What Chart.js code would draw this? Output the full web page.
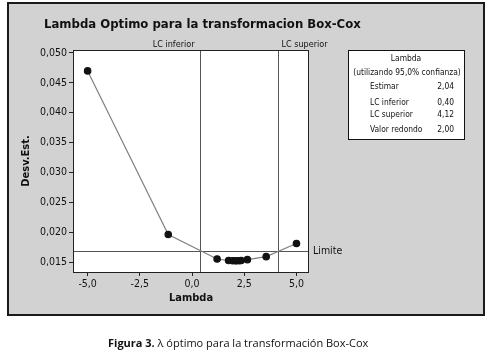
<!DOCTYPE html>
<html><head><meta charset="utf-8">
<script src="https://cdn.jsdelivr.net/npm/chart.js@4/dist/chart.umd.min.js"></script>
<style>html,body{margin:0;padding:0;background:#fff;}#wrap{width:493px;height:355px;position:relative;}</style>
</head><body><div id="wrap"><canvas id="c" width="493" height="355"></canvas></div>
<script>
const lambdas = [-5.0, -1.14, 1.2, 1.75, 1.95, 2.1, 2.25, 2.35, 2.65, 3.55, 5.0];
const stdevs  = [0.0470, 0.0196, 0.0155, 0.01525, 0.01522, 0.0152, 0.01522, 0.01525, 0.0154, 0.0159, 0.0181];
const xTicks = [-5.0, -2.5, 0.0, 2.5, 5.0];
const yTicks = [0.015, 0.020, 0.025, 0.030, 0.035, 0.040, 0.045, 0.050];
const lcInferior = 0.40;
const lcSuperior = 4.12;
const limite = 0.01684;
const legendRows = [["Estimar", "2,04"], ["LC inferior", "0,40"], ["LC superior", "4,12"], ["Valor redondo", "2,00"]];
const titleText = "Lambda Optimo para la transformacion Box-Cox";

const F = "Tahoma, 'DejaVu Sans Condensed', 'DejaVu Sans', sans-serif";
const fmt = (v, d) => v.toFixed(d).replace('.', ',');

const deco = {
  id: 'deco',
  beforeDraw(chart) {
    const ctx = chart.ctx, a = chart.chartArea;
    ctx.save();
    ctx.fillStyle = '#fff'; ctx.fillRect(0, 0, chart.width, chart.height);
    ctx.fillStyle = '#d2d2d2'; ctx.fillRect(8, 3, 476, 312);
    ctx.strokeStyle = '#1a1a1a'; ctx.lineWidth = 2; ctx.strokeRect(8, 3, 476, 312);
    ctx.fillStyle = '#fff'; ctx.fillRect(a.left, a.top, a.right - a.left, a.bottom - a.top);
    ctx.restore();
  },
  beforeDatasetsDraw(chart) {
    const ctx = chart.ctx, a = chart.chartArea, xs = chart.scales.x, ys = chart.scales.y;
    ctx.save();
    ctx.strokeStyle = '#555'; ctx.lineWidth = 1;
    const xi = Math.round(xs.getPixelForValue(lcInferior)) + 0.5;
    const xsu = Math.round(xs.getPixelForValue(lcSuperior)) + 0.5;
    const yl = Math.round(ys.getPixelForValue(limite)) + 0.5;
    ctx.beginPath();
    ctx.moveTo(xi, a.top); ctx.lineTo(xi, a.bottom);
    ctx.moveTo(xsu, a.top); ctx.lineTo(xsu, a.bottom);
    ctx.moveTo(a.left, yl); ctx.lineTo(a.right, yl);
    ctx.stroke();
    ctx.fillStyle = '#111';
    ctx.font = "9px " + F;
    ctx.textBaseline = 'middle';
    ctx.textAlign = 'right'; ctx.fillText('LC inferior', xi - 6, a.top - 5);
    ctx.textAlign = 'left'; ctx.fillText('LC superior', xsu + 3, a.top - 5);
    ctx.font = "10.5px " + F;
    ctx.fillText('Limite', a.right + 4, yl);
    ctx.restore();
  },
  afterDraw(chart) {
    const ctx = chart.ctx, a = chart.chartArea;
    ctx.save();
    ctx.strokeStyle = '#222'; ctx.lineWidth = 1;
    ctx.strokeRect(a.left + 0.5, a.top + 0.5, a.right - a.left - 1, a.bottom - a.top);
    // title
    ctx.fillStyle = '#111';
    ctx.font = "bold 13px " + F;
    ctx.textAlign = 'left'; ctx.textBaseline = 'middle';
    ctx.fillText(titleText, 44, 25);
    // legend box
    const bx = 348, by = 50, bw = 116, bh = 89;
    ctx.fillStyle = '#fff'; ctx.fillRect(bx, by, bw, bh);
    ctx.strokeStyle = '#111'; ctx.strokeRect(bx + 0.5, by + 0.5, bw, bh);
    ctx.fillStyle = '#111';
    ctx.font = "8.4px " + F;
    ctx.textAlign = 'center';
    ctx.fillText('Lambda', bx + bw / 2, 59);
    ctx.fillText('(utilizando 95,0% confianza)', bx + bw / 2 + 1, 73);
    const ys = [87, 103, 115, 130];
    legendRows.forEach((r, i) => {
      ctx.textAlign = 'left'; ctx.fillText(r[0], 370, ys[i]);
      ctx.textAlign = 'right'; ctx.fillText(r[1], 454, ys[i]);
    });
    // caption
    ctx.textAlign = 'left';
    ctx.font = "bold 11px 'Open Sans', sans-serif";
    const cap1 = 'Figura 3.';
    ctx.fillText(cap1, 108, 344);
    const w = ctx.measureText(cap1).width;
    ctx.font = "11px 'Open Sans', sans-serif";
    ctx.fillText(' \u03bb óptimo para la transformación Box-Cox', 108 + w, 344);
    ctx.restore();
  }
};

new Chart(document.getElementById('c'), {
  type: 'scatter',
  data: {
    datasets: [{
      data: lambdas.map((x, i) => ({x: x, y: stdevs[i]})),
      showLine: true,
      borderColor: '#808080',
      borderWidth: 1.2,
      pointBackgroundColor: '#111',
      pointBorderColor: '#111',
      pointRadius: 3.2,
      pointHoverRadius: 3.2
    }]
  },
  options: {
    responsive: false,
    animation: false,
    events: [],
    layout: { padding: { left: 20, top: 50, right: 184, bottom: 48 } },
    plugins: { legend: { display: false }, tooltip: { enabled: false }, title: { display: false } },
    scales: {
      x: {
        type: 'linear', min: -5.7, max: 5.6,
        afterBuildTicks: s => { s.ticks = xTicks.map(v => ({value: v})); },
        afterFit: s => { s.height = 35; },
        grid: { drawOnChartArea: false, drawTicks: true, tickLength: 4, tickColor: '#222' },
        border: { display: false },
        ticks: { color: '#111', font: { family: F, size: 10.5 }, padding: 2, maxRotation: 0,
                 callback: v => fmt(v, 1) },
        title: { display: true, text: 'Lambda', color: '#111', font: { family: F, size: 11, weight: 'bold' }, padding: { top: 0, bottom: 2 } }
      },
      y: {
        type: 'linear', min: 0.01333, max: 0.0505,
        afterBuildTicks: s => { s.ticks = yTicks.map(v => ({value: v})); },
        afterFit: s => { s.width = 53; },
        grid: { drawOnChartArea: false, drawTicks: true, tickLength: 4, tickColor: '#222' },
        border: { display: false },
        ticks: { color: '#111', font: { family: F, size: 10.5 }, padding: 2,
                 callback: v => fmt(v, 3) },
        title: { display: true, text: 'Desv.Est.', color: '#111', font: { family: F, size: 11, weight: 'bold' }, padding: { top: 0, bottom: 0 } }
      }
    }
  },
  plugins: [deco]
});
</script></body></html>
